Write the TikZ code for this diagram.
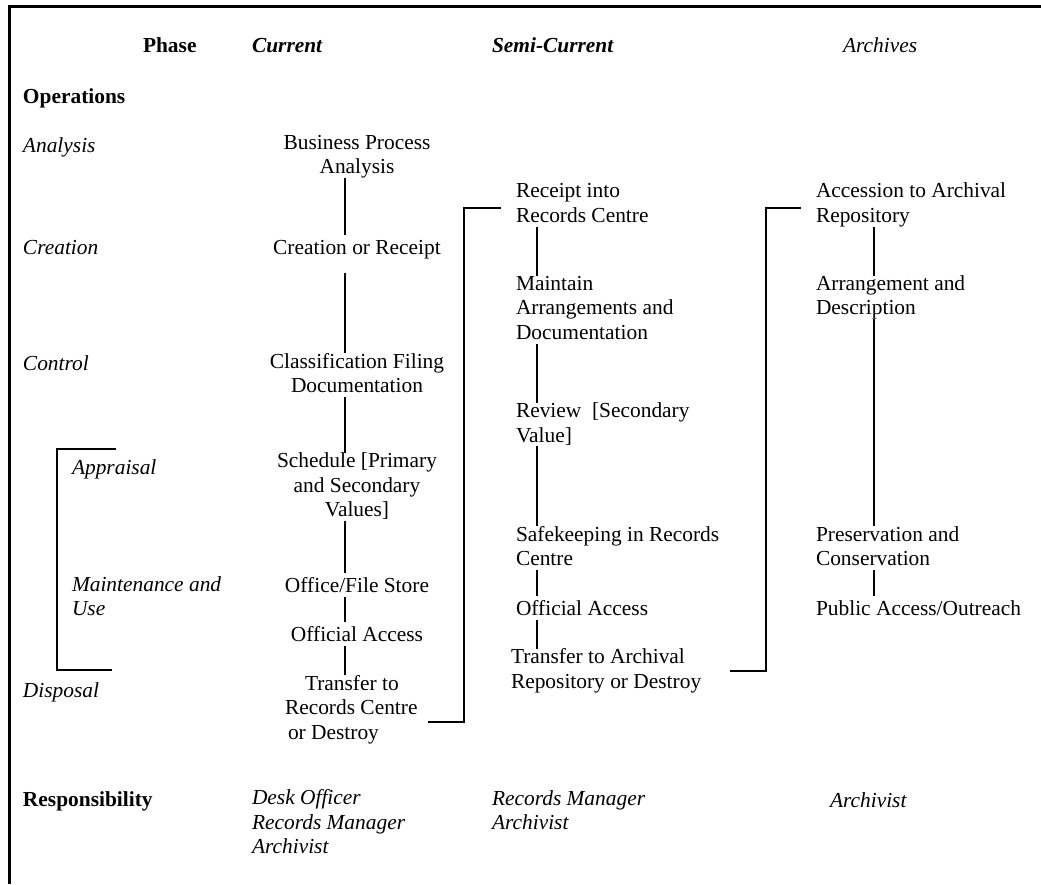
\documentclass[tikz,border=0pt]{standalone}
\usepackage{fontspec}
\setmainfont{Liberation Serif}
\newcommand\mystrut{\rule[-4.35pt]{0pt}{24.5pt}}
\begin{document}
\begin{tikzpicture}[x=1pt,y=-1pt,
  txt/.style={inner sep=0pt, outer sep=0pt, font=\fontsize{21.4}{24.5}\selectfont,
    execute at begin node=\mystrut, execute at end node=\mystrut},
  lft/.style={txt, anchor=west, align=left},
  ctr/.style={txt, anchor=center, align=center},
  it/.style={font=\fontsize{21.4}{24.5}\selectfont\itshape},
  bd/.style={font=\fontsize{21.4}{24.5}\selectfont\bfseries},
  bi/.style={font=\fontsize{21.4}{24.5}\selectfont\bfseries\itshape},
  link/.style={line width=2pt},
  frame/.style={line width=3pt}]
\useasboundingbox (0,0) rectangle (1041,884);
% frame
\draw[frame] (9.5,884) -- (9.5,6.2) -- (1041,6.2);
% header
\node[lft,bd] (phase) at (143,45) {Phase};
\node[lft,bi] (cur) at (252,45) {Current};
\node[lft,bi] (semi) at (492,45) {Semi-Current};
\node[lft,it] (arch) at (843,45) {Archives};
\node[lft,bd] (ops) at (23,96) {Operations};
% row labels
\node[lft,it] (anl) at (23,145) {Analysis};
\node[lft,it] (cre) at (23,247) {Creation};
\node[lft,it] (ctl) at (23,363) {Control};
\node[lft,it] (app) at (72,467) {Appraisal};
\node[lft,it] (mnt) at (72,598) {Maintenance and\\Use};
\node[lft,it] (dsp) at (23,690) {Disposal};
\node[lft,bd] (resp) at (23,799) {Responsibility};
% current column
\node[ctr] (bpa) at (357,156.5) {Business Process\\Analysis};
\node[ctr] (crt) at (357,247) {Creation or Receipt};
\node[ctr] (cls) at (357,375) {Classification Filing\\Documentation};
\node[ctr] (sch) at (357,487) {Schedule [Primary\\and Secondary\\Values]};
\node[ctr] (ofs) at (357,585) {Office/File Store};
\node[ctr] (oa1) at (357,634) {Official Access};
\node[lft] (tr1) at (285,709.3) {\hspace*{20pt}Transfer to\\Records Centre\\\hspace*{3pt}or Destroy};
% semi-current column
\node[lft] (rc) at (516,205) {Receipt into\\Records Centre};
\node[lft] (mad) at (516,310) {Maintain\\Arrangements and\\Documentation};
\node[lft] (rev) at (516,424.5) {Review\ \ [Secondary\\Value]};
\node[lft] (sk) at (516,548) {Safekeeping in Records\\Centre};
\node[lft] (oa2) at (516,608) {Official Access};
\node[lft] (tr2) at (511,671) {Transfer to Archival\\Repository or Destroy};
% archives column
\node[lft] (acc) at (816,205) {Accession to Archival\\Repository};
\node[lft] (ad) at (816,297.5) {Arrangement and\\Description};
\node[lft] (pc) at (816,548) {Preservation and\\Conservation};
\node[lft] (pa) at (816,608) {Public Access/Outreach};
% responsibility
\node[lft,it] (r1) at (252,824) {Desk Officer\\Records Manager\\Archivist};
\node[lft,it] (r2) at (492,812) {Records Manager\\Archivist};
\node[lft,it] (r3) at (830,800) {Archivist};
% connector columns
\coordinate (c1) at (345,0);
\coordinate (c2) at (537,0);
\coordinate (c3) at (874,0);
\draw[link] (bpa.south -| c1) -- (crt.north -| c1);
\draw[link,shorten <=14pt] (crt.south -| c1) -- (cls.north -| c1);
\draw[link] (cls.south -| c1) -- (sch.north -| c1);
\draw[link] (sch.south -| c1) -- (ofs.north -| c1);
\draw[link] (ofs.south -| c1) -- (oa1.north -| c1);
\draw[link] (oa1.south -| c1) -- (tr1.north -| c1);
\draw[link] (rc.south -| c2) -- (mad.north -| c2);
\draw[link] (mad.south -| c2) -- (rev.north -| c2);
\draw[link] (rev.south -| c2) -- (sk.north -| c2);
\draw[link] (sk.south -| c2) -- (oa2.north -| c2);
\draw[link] (oa2.south -| c2) -- (tr2.north -| c2);
\draw[link] (acc.south -| c3) -- (ad.north -| c3);
\draw[link] (ad.south -| c3) -- (pc.north -| c3);
\draw[link] (pc.south -| c3) -- (pa.north -| c3);
% brackets
\coordinate (lb1) at (116,449);
\coordinate (lb2) at (112,670);
\draw[link] (lb1) -- ++(-59,0) |- (lb2);
\coordinate (k1a) at (428,722);
\coordinate (k1b) at (501,208);
\draw[link] (k1a) -- ++(36,0) |- (k1b);
\coordinate (k2a) at (730,671);
\coordinate (k2b) at (801,208);
\draw[link] (k2a) -- ++(36,0) |- (k2b);
\end{tikzpicture}
\end{document}
